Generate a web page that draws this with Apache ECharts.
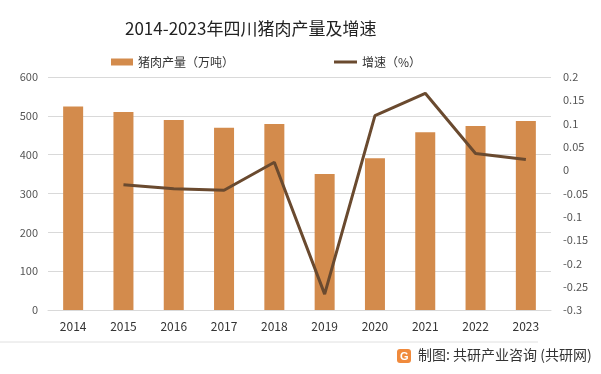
<!DOCTYPE html>
<html><head><meta charset="utf-8">
<script src="https://cdn.jsdelivr.net/npm/echarts@6/dist/echarts.min.js"></script>
<style>html,body{margin:0;padding:0;background:#fff}#c{width:601px;height:374px}</style>
</head><body><div id="c"></div>
<script>
var categories = ['2014','2015','2016','2017','2018','2019','2020','2021','2022','2023'];
var production = [524, 510, 489, 469, 479, 350, 391, 458, 474, 487];
var growth = [null, -0.031, -0.040, -0.043, 0.017, -0.266, 0.117, 0.165, 0.036, 0.023];
var leftTicks = [0, 600, 100];
var rightTicks = [-0.3, 0.2, 0.05];

var font = '"Microsoft YaHei","Noto Sans CJK SC",sans-serif';
var chart = echarts.init(document.getElementById('c'));
chart.setOption({
  animation: false,
  title: {text: '2014-2023年四川猪肉产量及增速', left: 120, top: 15,
    textStyle: {fontFamily: font, fontSize: 17, fontWeight: 'normal', color: '#222'}},
  legend: [
    {left: 106, top: 51, itemWidth: 22, itemHeight: 7,
      textStyle: {fontFamily: font, fontSize: 12, color: '#333'},
      data: [{name: '猪肉产量（万吨）', icon: 'rect'}]},
    {left: 329, top: 51, itemWidth: 23, itemHeight: 3,
      textStyle: {fontFamily: font, fontSize: 12, color: '#333'},
      data: [{name: '增速（%）', icon: 'rect'}]}
  ],
  grid: {left: 48, right: 50, top: 77, bottom: 64},
  xAxis: {type: 'category', data: categories,
    axisLine: {lineStyle: {color: '#d9d9d9'}}, axisTick: {show: false},
    axisLabel: {color: '#333', fontSize: 12, fontFamily: font, margin: 10}},
  yAxis: [
    {type: 'value', min: leftTicks[0], max: leftTicks[1], interval: leftTicks[2],
      axisLabel: {color: '#555', fontSize: 11, fontFamily: font, margin: 10},
      splitLine: {lineStyle: {color: '#d9d9d9'}}, axisLine: {show: false}, axisTick: {show: false}},
    {type: 'value', min: rightTicks[0], max: rightTicks[1], interval: rightTicks[2],
      axisLabel: {color: '#555', fontSize: 11, fontFamily: font, margin: 12,
        formatter: function(v){ return String(Math.round(v*100)/100); }},
      splitLine: {show: false}, axisLine: {show: false}, axisTick: {show: false}}
  ],
  series: [
    {name: '猪肉产量（万吨）', type: 'bar', data: production, barWidth: 20,
      itemStyle: {color: '#D38B4C'}},
    {name: '增速（%）', type: 'line', yAxisIndex: 1, data: growth, symbol: 'none',
      lineStyle: {color: '#6A4A2F', width: 3}, itemStyle: {color: '#6A4A2F'}}
  ],
  graphic: [
    {type: 'line', shape: {x1: 0, y1: 342, x2: 538, y2: 342}, style: {stroke: '#e0e0e0', lineWidth: 1}},
    {type: 'rect', shape: {x: 397, y: 349, width: 14, height: 14, r: 3}, style: {fill: '#F08A3C'}},
    {type: 'text', style: {x: 400, y: 351, text: 'G', fill: '#fff', font: 'bold 11px sans-serif'}},
    {type: 'text', style: {x: 418, y: 348, text: '制图: 共研产业咨询 (共研网)', fill: '#333', font: '14px ' + font}}
  ]
});
</script></body></html>
